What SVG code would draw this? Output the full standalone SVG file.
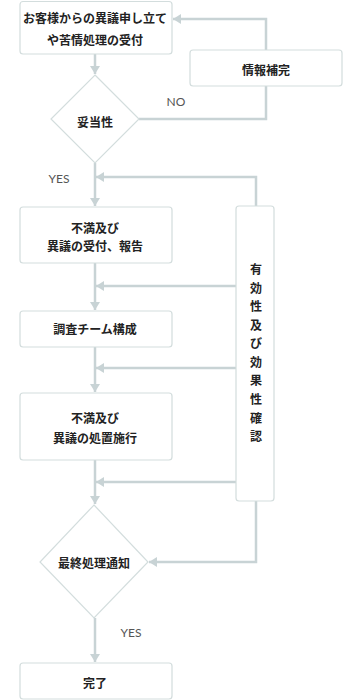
<svg xmlns="http://www.w3.org/2000/svg" width="362" height="700" viewBox="0 0 362 700">
<defs>
<marker id="ah" markerUnits="userSpaceOnUse" markerWidth="9" markerHeight="11" refX="8" refY="5.5" orient="auto" viewBox="0 0 9 11">
<path d="M0,0.5 L8,5.5 L0,10.5 z" fill="#c8d3d5"/>
</marker>
<style>
.box{fill:#fff;stroke:#d3dddd;stroke-width:1.2}
.t{font-family:"Noto Sans CJK JP","Noto Sans",sans-serif;font-size:12px;font-weight:bold;fill:#222;text-anchor:middle;dominant-baseline:central}
.lbl{font-family:"Lato","Noto Sans",sans-serif;font-size:12px;fill:#555;text-anchor:middle;dominant-baseline:central}
.c{fill:none;stroke:#c8d3d5;stroke-width:2.5}
.ca{fill:none;stroke:#c8d3d5;stroke-width:2.5;marker-end:url(#ah)}
</style>
</defs>
<rect width="362" height="700" fill="#fff"/>
<g id="connectors">
<path class="ca" d="M95,54 V74"/>
<path class="c" d="M139,119 H266 V86"/>
<path class="ca" d="M266,50 V19 H173"/>
<path class="ca" d="M95,163 V206"/>
<path class="ca" d="M256,206 V177 H96"/>
<path class="ca" d="M95,263 V310"/>
<path class="ca" d="M236,286 H96"/>
<path class="ca" d="M95,347 V392"/>
<path class="ca" d="M236,368 H96"/>
<path class="ca" d="M95,460 V504"/>
<path class="ca" d="M236,482 H96"/>
<path class="ca" d="M256,501 V562 H149"/>
<path class="ca" d="M95,618 V662"/>
</g>
<g id="n1"><rect class="box" x="20" y="1.5" width="152" height="52.5" rx="3"/><text class="t" x="95" y="17">お客様からの異議申し立て</text><text class="t" x="95" y="39">や苦情処理の受付</text></g>
<g id="n2"><rect class="box" x="190" y="50" width="152" height="36" rx="3"/><text class="t" x="266" y="69">情報補完</text></g>
<g id="d1"><path class="box" d="M95,75 L139,119 L95,163 L51,119 Z"/><text class="t" x="95" y="121">妥当性</text></g>
<text class="lbl" x="176" y="101">NO</text>
<text class="lbl" x="59" y="178">YES</text>
<g id="n3"><rect class="box" x="20" y="207" width="152" height="56" rx="3"/><text class="t" x="95" y="227">不満及び</text><text class="t" x="95" y="245">異議の受付、報告</text></g>
<g id="n4"><rect class="box" x="236" y="206" width="38" height="295" rx="3"/>
<text class="t" x="256" y="268">有</text><text class="t" x="256" y="287">効</text><text class="t" x="256" y="305">性</text><text class="t" x="256" y="324">及</text><text class="t" x="256" y="342">び</text><text class="t" x="256" y="361">効</text><text class="t" x="256" y="379">果</text><text class="t" x="256" y="398">性</text><text class="t" x="256" y="417">確</text><text class="t" x="256" y="435">認</text></g>
<g id="n5"><rect class="box" x="20" y="311" width="152" height="36" rx="3"/><text class="t" x="95" y="328">調査チーム構成</text></g>
<g id="n6"><rect class="box" x="20" y="393" width="152" height="67" rx="3"/><text class="t" x="95" y="417">不満及び</text><text class="t" x="95" y="437">異議の処置施行</text></g>
<g id="d2"><path class="box" d="M94,505 L148,562 L94,618 L40,562 Z"/><text class="t" x="94" y="562">最終処理通知</text></g>
<text class="lbl" x="131" y="632">YES</text>
<g id="n7"><rect class="box" x="20" y="663" width="152" height="36" rx="3"/><text class="t" x="95" y="682">完了</text></g>
</svg>
